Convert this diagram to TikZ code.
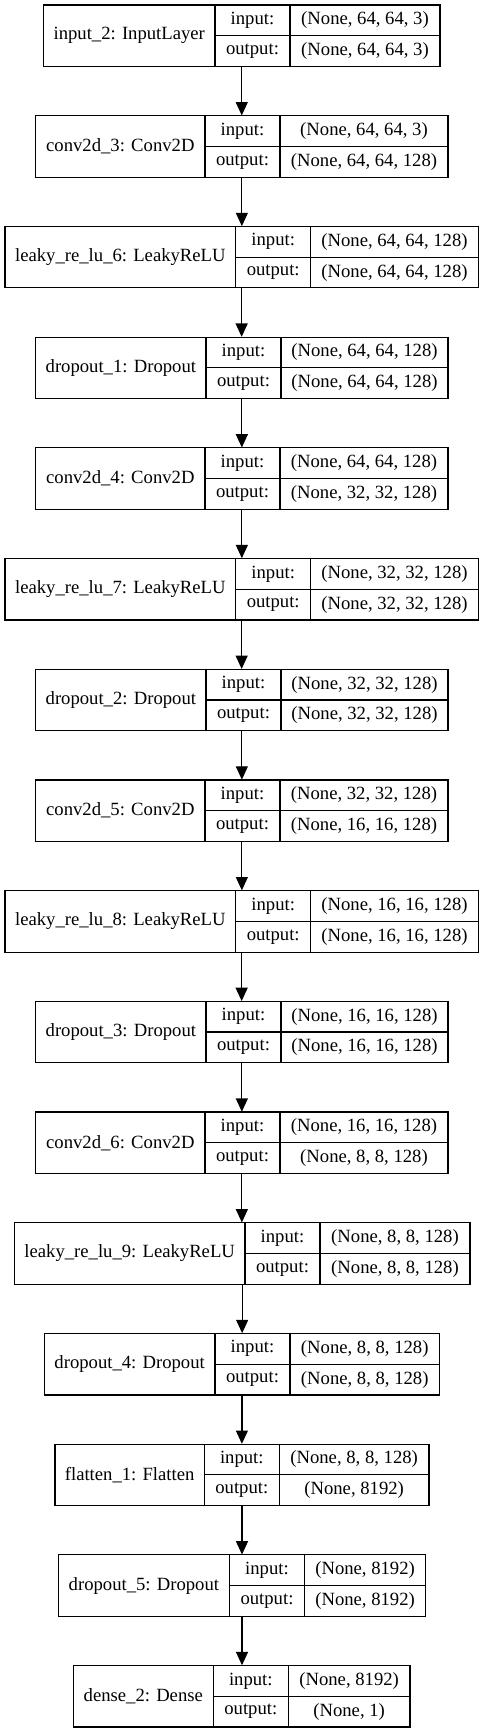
\documentclass[tikz,border=0pt]{standalone}
\usepackage{fontspec}
\setmainfont{Liberation Serif}
\usetikzlibrary{arrows.meta,fit}
\tikzset{
  cell/.style={draw=black, line width=0.9pt, inner sep=0pt},
  txt/.style={inner sep=0pt, font=\fontsize{14pt}{16pt}\selectfont},
  whole/.style={inner sep=0pt},
  arr/.style={draw=black, line width=0.9pt, -{Triangle[length=10pt,width=9pt]}}
}
\newcommand{\layer}[9]{%
  \pgfmathsetmacro{\tp}{5+110.7*#2}%
  \pgfmathsetmacro{\bt}{\tp+61.5}%
  \pgfmathsetmacro{\md}{\tp+30.75}%
  \node[whole, fit={(#4,\tp) (#7,\bt)}] (#1) {};
  \node[cell, fit={(#4,\tp) (#5,\bt)}, label={[txt]center:#3}] (#1n) {};
  \node[cell, fit={(#5,\tp) (#6,\md)}, label={[txt]center:input:}] (#1il) {};
  \node[cell, fit={(#5,\md) (#6,\bt)}, label={[txt]center:output:}] (#1ol) {};
  \node[cell, fit={(#6,\tp) (#7,\md)}, label={[txt]center:#8}] (#1iv) {};
  \node[cell, fit={(#6,\md) (#7,\bt)}, label={[txt]center:#9}] (#1ov) {};
}
\begin{document}
\begin{tikzpicture}[x=0.75pt,y=-0.75pt]
\fill[white] (0,0) rectangle (484,1733);
\useasboundingbox (0,0) rectangle (484,1733);
\layer{b0}{0}{input\_2: InputLayer}{43.5}{215}{290}{440}{(None, 64, 64, 3)}{(None, 64, 64, 3)}
\layer{b1}{1}{conv2d\_3: Conv2D}{35.7}{205}{280}{448}{(None, 64, 64, 3)}{(None, 64, 64, 128)}
\layer{b2}{2}{leaky\_re\_lu\_6: LeakyReLU}{5}{235.7}{310.7}{478.3}{(None, 64, 64, 128)}{(None, 64, 64, 128)}
\layer{b3}{3}{dropout\_1: Dropout}{35.7}{206}{281}{448}{(None, 64, 64, 128)}{(None, 64, 64, 128)}
\layer{b4}{4}{conv2d\_4: Conv2D}{35.7}{205}{280}{448}{(None, 64, 64, 128)}{(None, 32, 32, 128)}
\layer{b5}{5}{leaky\_re\_lu\_7: LeakyReLU}{5}{235.7}{310.7}{478.3}{(None, 32, 32, 128)}{(None, 32, 32, 128)}
\layer{b6}{6}{dropout\_2: Dropout}{35.7}{206}{281}{448}{(None, 32, 32, 128)}{(None, 32, 32, 128)}
\layer{b7}{7}{conv2d\_5: Conv2D}{35.7}{205}{280}{448}{(None, 32, 32, 128)}{(None, 16, 16, 128)}
\layer{b8}{8}{leaky\_re\_lu\_8: LeakyReLU}{5}{235.7}{310.7}{478.3}{(None, 16, 16, 128)}{(None, 16, 16, 128)}
\layer{b9}{9}{dropout\_3: Dropout}{35.7}{206}{281}{448}{(None, 16, 16, 128)}{(None, 16, 16, 128)}
\layer{b10}{10}{conv2d\_6: Conv2D}{35.7}{205}{280}{448}{(None, 16, 16, 128)}{(None, 8, 8, 128)}
\layer{b11}{11}{leaky\_re\_lu\_9: LeakyReLU}{14.3}{245}{320}{470}{(None, 8, 8, 128)}{(None, 8, 8, 128)}
\layer{b12}{12}{dropout\_4: Dropout}{44.3}{215}{290}{439.5}{(None, 8, 8, 128)}{(None, 8, 8, 128)}
\layer{b13}{13}{flatten\_1: Flatten}{55}{204.3}{279.3}{429}{(None, 8, 8, 128)}{(None, 8192)}
\layer{b14}{14}{dropout\_5: Dropout}{58.3}{229.5}{304.5}{425.7}{(None, 8192)}{(None, 8192)}
\layer{b15}{15}{dense\_2: Dense}{73.3}{213.3}{288.3}{410}{(None, 8192)}{(None, 1)}
\foreach \a/\b in {b0/b1,b1/b2,b2/b3,b3/b4,b4/b5,b5/b6,b6/b7,b7/b8,b8/b9,b9/b10,b10/b11,b11/b12,b12/b13,b13/b14,b14/b15}
  \draw[arr] (\a.south) -- (\a.south |- \b.north);
\end{tikzpicture}
\end{document}
